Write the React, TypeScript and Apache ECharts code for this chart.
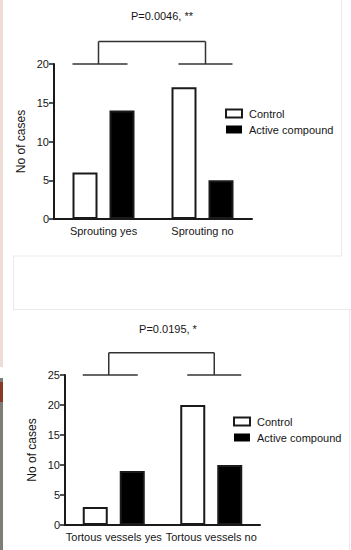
import React, { useEffect, useRef } from "react";
import * as echarts from "echarts";

const seriesNames = ["Control", "Active compound"];
const topCategories = ["Sprouting yes", "Sprouting no"];
const topControl = [6, 17];
const topActive = [14, 5];
const topTitle = "P=0.0046, **";
const topMax = 20;
const topBracketValue = 22.9;

const botCategories = ["Tortous vessels yes", "Tortous vessels no"];
const botControl = [3, 20];
const botActive = [9, 10];
const botTitle = "P=0.0195, *";
const botMax = 25;
const botBracketValue = 28.7;

const FONT = '"Liberation Sans", Arial, sans-serif';
const FS = 11;
const INK = "#1a1a1a";
const TXT = "#161616";

export default function App() {
  const ref = useRef<HTMLDivElement>(null);
  useEffect(() => {
    if (!ref.current) return;
    const chart = echarts.init(ref.current, undefined, { renderer: "svg" });
    const grids = [
      { left: 54, top: 64, width: 198, height: 155 },
      { left: 65, top: 375, width: 195, height: 150 },
    ];
    const xAxis = [topCategories, botCategories].map((cats, i) => ({
      type: "category",
      gridIndex: i,
      data: cats,
      axisLine: { lineStyle: { color: INK, width: 2 } },
      axisTick: { alignWithLabel: true, length: 4, lineStyle: { color: INK, width: 1.5 } },
      axisLabel: { color: TXT, fontSize: FS, fontFamily: FONT, margin: 6, interval: 0 },
    }));
    const yAxis = [topMax, botMax].map((mx, i) => ({
      type: "value",
      gridIndex: i,
      min: 0,
      max: mx,
      interval: 5,
      name: "No of cases",
      nameLocation: "middle",
      nameRotate: 90,
      nameGap: 27,
      nameMoveOverlap: false,
      nameTextStyle: { color: TXT, fontSize: 12, fontFamily: FONT },
      axisLine: { show: true, lineStyle: { color: INK, width: 2 } },
      axisTick: { show: true, length: 5, lineStyle: { color: INK, width: 1.5 } },
      axisLabel: { color: TXT, fontSize: FS, fontFamily: FONT, margin: 5 },
      splitLine: { show: false },
    }));
    const mkBar = (name: string, data: number[], idx: number, fill: string) => ({
      type: "bar",
      name,
      xAxisIndex: idx,
      yAxisIndex: idx,
      data,
      barWidth: 25,
      barGap: "48%",
      itemStyle: { color: fill, borderColor: INK, borderWidth: 2 },
    });
    const legendData = [
      { name: seriesNames[0], itemStyle: { color: "#fff", borderColor: INK, borderWidth: 2 } },
      { name: seriesNames[1], itemStyle: { color: "#000", borderColor: INK, borderWidth: 0 } },
    ];
    const mkLegend = (left: number, top: number) => ({
      orient: "vertical",
      left,
      top,
      icon: "rect",
      itemWidth: 16,
      itemHeight: 8,
      itemGap: 5,
      data: legendData,
      selectedMode: false,
      textStyle: { color: TXT, fontSize: FS, fontFamily: FONT, padding: [0, 0, 0, 2] },
    });
    const titleStyle = { fontSize: FS, fontWeight: "normal", color: TXT, fontFamily: FONT };
    chart.setOption({
      animation: false,
      backgroundColor: "#fff",
      title: [
        { text: topTitle, left: 157, top: 5, textAlign: "center", textStyle: titleStyle },
        { text: botTitle, left: 163, top: 318, textAlign: "center", textStyle: titleStyle },
      ],
      grid: grids,
      xAxis,
      yAxis,
      legend: [mkLegend(220, 103), mkLegend(228, 411)],
      series: [
        mkBar(seriesNames[0], topControl, 0, "#fff"),
        mkBar(seriesNames[1], topActive, 0, "#000"),
        mkBar(seriesNames[0], botControl, 1, "#fff"),
        mkBar(seriesNames[1], botActive, 1, "#000"),
      ],
    });

    const line = (x1: number, y1: number, x2: number, y2: number, color = "#333", w = 1.5) => ({
      type: "line",
      shape: { x1, y1, x2, y2 },
      style: { stroke: color, lineWidth: w },
      silent: true,
    });
    const bracket = (idx: number, cats: string[], base: number, topV: number) => {
      const c1 = chart.convertToPixel({ xAxisIndex: idx }, cats[0]) as number;
      const c2 = chart.convertToPixel({ xAxisIndex: idx }, cats[1]) as number;
      const yb = chart.convertToPixel({ yAxisIndex: idx }, base) as number;
      const yt = chart.convertToPixel({ yAxisIndex: idx }, topV) as number;
      const l = c1 - 5;
      const r = c2 + 3;
      return [
        line(c1 - 31, yb, c1 + 24, yb),
        line(c2 - 24, yb, c2 + 30, yb),
        line(l, yb, l, yt),
        line(r, yb, r, yt),
        line(l, yt, r, yt),
      ];
    };
    const frame = "#e9e9e9";
    chart.setOption({
      graphic: [
        { type: "rect", shape: { x: 0, y: 0, width: 3, height: 367 }, style: { fill: "#efdcd4" }, silent: true },
        { type: "rect", shape: { x: 0, y: 378, width: 3, height: 172 }, style: { fill: "#7e7e76" }, silent: true },
        { type: "rect", shape: { x: 0, y: 382, width: 3, height: 20 }, style: { fill: "#8a3a24" }, silent: true },
        line(341.5, 0, 341.5, 256, frame, 1),
        line(13, 256, 341.5, 256, frame, 1),
        line(13.5, 256, 13.5, 309.5, frame, 1),
        line(13, 309.5, 351, 309.5, frame, 1),
        line(349.5, 309.5, 349.5, 550, frame, 1),
        ...bracket(0, topCategories, topMax, topBracketValue),
        ...bracket(1, botCategories, botMax, botBracketValue),
      ],
    });
    return () => chart.dispose();
  }, []);
  return (
    <div
      ref={ref}
      style={{ position: "fixed", left: 0, top: 0, width: 351, height: 550 }}
    />
  );
}
